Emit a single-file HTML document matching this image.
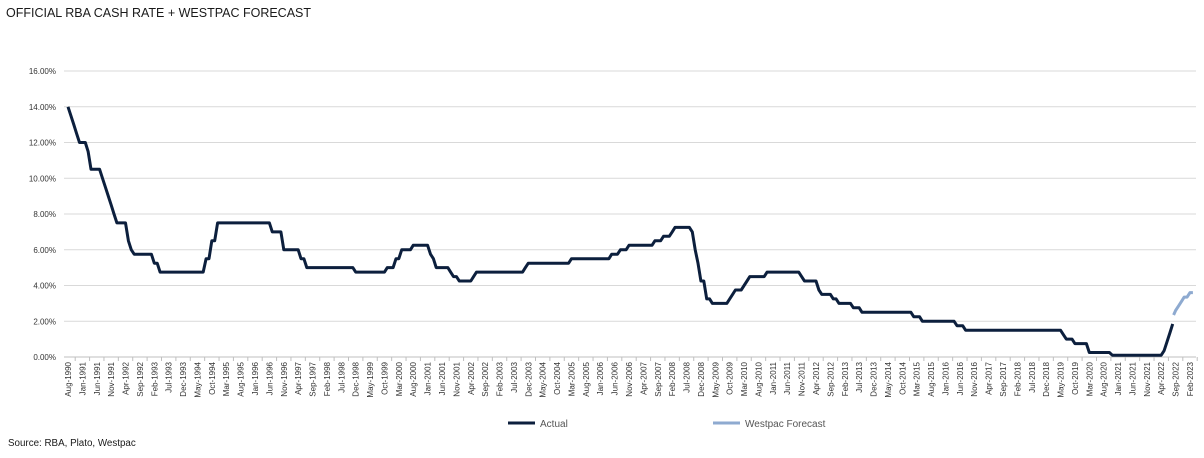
<!DOCTYPE html><html><head><style>body{margin:0;background:#fff;font-family:"Liberation Sans",sans-serif}</style></head><body>
<svg id="s" width="1204" height="453" xmlns="http://www.w3.org/2000/svg" font-family="Liberation Sans, sans-serif">
<text x="6" y="17" font-size="12.5" fill="#1a1a1a">OFFICIAL RBA CASH RATE + WESTPAC FORECAST</text>
<text x="8" y="446" font-size="9.8" fill="#1a1a1a">Source:  RBA, Plato, Westpac</text>
<g id="g"></g>
<line x1="508" y1="423" x2="535" y2="423" stroke="#0c1f3d" stroke-width="3"/>
<text x="540" y="427" font-size="10" fill="#555">Actual</text>
<line x1="713" y1="423" x2="740" y2="423" stroke="#8eaad0" stroke-width="3"/>
<text x="745" y="427" font-size="10" fill="#555">Westpac Forecast</text>
</svg>
<script>
var g=document.getElementById('g'),h='';
function X(m){return 68+m*1122/390}function Y(v){return 357-v*17.875}
for(var i=0;i<=8;i++){var y=Y(i*2);h+='<line x1="64" x2="1196" y1="'+y+'" y2="'+y+'" stroke="'+(i?'#d9d9d9':'#bfbfbf')+'" stroke-width="1"/>';
h+='<text x="56" y="'+(y+3)+'" font-size="8" text-anchor="end" fill="#333">'+(i*2).toFixed(2)+'%</text>';}
var M=['Jan','Feb','Mar','Apr','May','Jun','Jul','Aug','Sep','Oct','Nov','Dec'];
for(var m=0;m<=390;m+=5){var mo=(7+m)%12,yr=1990+Math.floor((7+m)/12),x=X(m);
h+='<text transform="translate('+(x+3)+',362) rotate(-90)" font-size="8" text-anchor="end" fill="#333">'+M[mo]+'-'+yr+'</text>';
h+='<line x1="'+(x+2.5*2.877)+'" x2="'+(x+2.5*2.877)+'" y1="357" y2="361" stroke="#bfbfbf"/>';}
var k=[[0,14],[1,13.5],[2,13],[3,12.5],[4,12],[6,12],[7,11.5],[8,10.5],[11,10.5],[12,10],[13,9.5],[14,9],[15,8.5],[16,8],[17,7.5],[20,7.5],[21,6.5],[22,6],[23,5.75],[29,5.75],[30,5.25],[32,4.75],[47,4.75],[48,5.5],[50,6.5],[52,7.5],[70,7.5],[71,7],[75,6],[80,6],[81,5.5],[83,5],[99,5],[100,4.75],[110,4.75],[111,5],[114,5.5],[116,6],[120,6.25],[126,5.75],[127,5.5],[128,5],[132,5],[133,4.75],[134,4.5],[136,4.25],[141,4.5],[142,4.75],[159,5],[160,5.25],[175,5.5],[189,5.75],[192,6],[195,6.25],[204,6.5],[207,6.75],[210,7],[211,7.25],[216,7.25],[217,7],[218,6],[219,5.25],[220,4.25],[222,3.25],[224,3],[229,3],[230,3.25],[231,3.5],[232,3.75],[234,3.75],[235,4],[236,4.25],[237,4.5],[242,4.5],[243,4.75],[254,4.75],[255,4.5],[256,4.25],[260,4.25],[261,3.75],[262,3.5],[265,3.5],[266,3.25],[268,3],[272,3],[273,2.75],[275,2.75],[276,2.5],[293,2.5],[294,2.25],[296,2.25],[297,2],[308,2],[309,1.75],[311,1.75],[312,1.5],[345,1.5],[346,1.25],[347,1],[349,1],[350,0.75],[354,0.75],[355,0.25],[362,0.25],[363,0.1],[380,0.1],[381,0.35],[382,0.85],[383,1.35],[384,1.85]];
// step: hold value until next keypoint month-1
var pts=[],j=0,v=k[0][1];
for(var m=0;m<=384;m++){while(j<k.length&&k[j][0]<=m){v=k[j][1];j++;}pts.push([m,v]);}
var p=pts.map(function(a,i){return (i?'L':'M')+X(a[0]).toFixed(1)+' '+Y(a[1]).toFixed(1)}).join('');
var f=[[384.3,2.35],[385,2.6],[386,2.85],[387,3.1],[388,3.35],[389,3.35],[390,3.6],[391,3.6]];
var q=f.map(function(a,i){return (i?'L':'M')+X(a[0]).toFixed(1)+' '+Y(a[1]).toFixed(1)}).join('');
h+='<path d="'+q+'" fill="none" stroke="#8eaad0" stroke-width="3" stroke-linejoin="round"/>';
h+='<path d="'+p+'" fill="none" stroke="#0c1f3d" stroke-width="3" stroke-linejoin="round"/>';
g.innerHTML=h;
</script></body></html>
